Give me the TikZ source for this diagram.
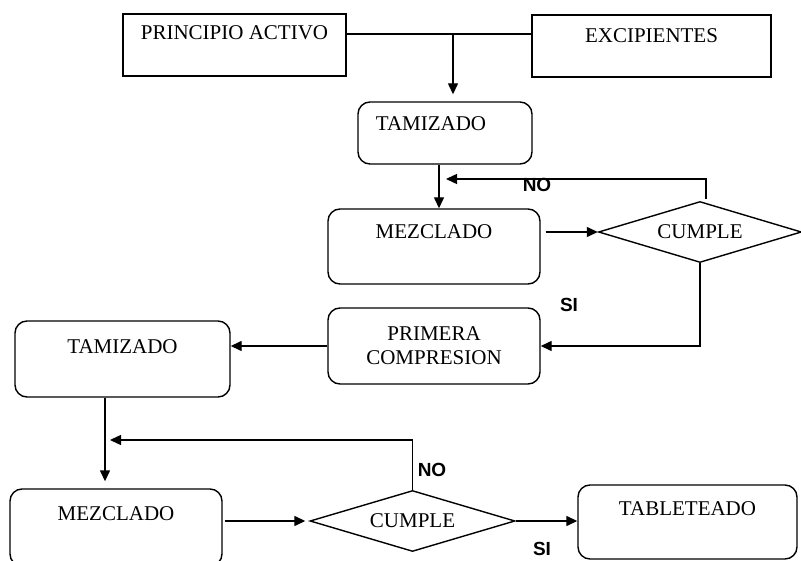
\documentclass[tikz,border=0pt]{standalone}
\usepackage{fontspec}
\setmainfont{Liberation Serif}
\newfontfamily\labfont{Liberation Sans}
\usetikzlibrary{shapes.geometric,arrows.meta}
\begin{document}
\begin{tikzpicture}[x=1pt,y=-1pt,
  box/.style={draw, line width=1.4pt, inner xsep=0pt, inner ysep=0pt, font=\fontsize{21}{24}\selectfont},
  sq/.style={box, rectangle},
  rbox/.style={box, rectangle, rounded corners=12pt},
  dia/.style={box, diamond, shape aspect=3.3, inner sep=0pt},
  conn/.style={line width=1.4pt},
  arr/.style={conn, -{Triangle[length=11pt,width=10pt]}},
  tag/.style={font=\labfont\bfseries\fontsize{19}{20}\selectfont, inner sep=0pt}]
\useasboundingbox (0,0) rectangle (801,561);
% boxes
\node[sq, minimum width=223pt, text height=26pt, text depth=36pt] (pa) at (234.5,45) {PRINCIPIO ACTIVO};
\node[sq, minimum width=239pt, text height=28pt, text depth=34pt] (ex) at (651.5,46) {EXCIPIENTES};
\node[rbox, minimum width=174pt, text height=29pt, text depth=33pt] (t1) at (445,133) {\hspace*{-28pt}TAMIZADO};
\node[rbox, minimum width=212pt, text height=30pt, text depth=45pt] (m1) at (434,246.5) {MEZCLADO};
\node[dia, minimum width=203pt, minimum height=61pt] (d1) at (700,232) {CUMPLE};
\node[rbox, minimum width=212pt, minimum height=76pt, align=center] (pc) at (434,346) {PRIMERA\\COMPRESION};
\node[rbox, minimum width=215pt, text height=33pt, text depth=43pt] (t2) at (122.5,359) {TAMIZADO};
\node[rbox, minimum width=212pt, text height=31pt, text depth=46pt] (m2) at (116,527.5) {MEZCLADO};
\node[dia, minimum width=205pt, minimum height=61pt] (d2) at (412.5,521) {CUMPLE};
\node[rbox, minimum width=219pt, text height=30pt, text depth=44pt] (tb) at (687.5,522) {TABLETEADO};
% junction coordinates
\coordinate (j) at (453,34);
\coordinate (c1) at (439,179);
\coordinate (c2) at (105,440);
% connectors
\draw[conn] (pa.east |- j) -- (ex.west |- j);
\draw[arr, shorten >=7pt] (j) -- (j |- t1.north);
\draw[arr] (c1 |- t1.south) -- (c1 |- m1.north);
\draw[arr, shorten >=7pt] ([xshift=6pt,yshift=2pt]d1.north) |- (c1);
\node[tag] (no1) at (537,185) {NO};
\draw[arr, shorten <=5pt] (m1.east |- d1.west) -- (d1.west);
\draw[arr] (d1.south) |- (pc.east);
\node[tag] (si1) at (569,305) {SI};
\draw[arr] (pc.west) -- (pc.west -| t2.east);
\draw[arr, shorten >=7pt] (c2 |- t2.south) -- (c2 |- m2.north);
\draw[arr, shorten >=5pt] (d2.north) |- (c2);
\node[tag] (no2) at (432,470) {NO};
\draw[arr, shorten <=2pt, shorten >=4pt] (m2.east |- d2.west) -- (d2.west);
\draw[arr] (d2.east) -- (d2.east -| tb.west);
\node[tag] (si2) at (542,549) {SI};
\end{tikzpicture}
\end{document}
